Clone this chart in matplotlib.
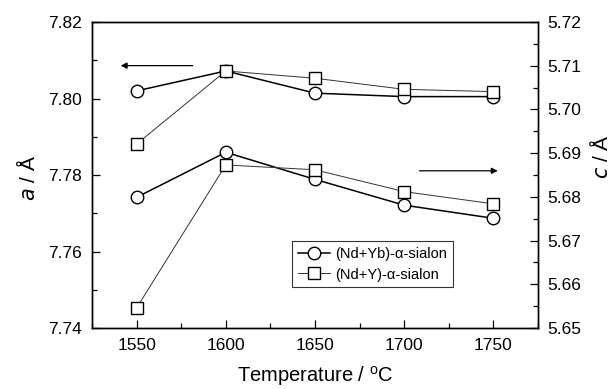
import matplotlib
matplotlib.use("Agg")
import matplotlib.pyplot as plt
from matplotlib.ticker import MultipleLocator

plt.rcParams['font.family'] = ['Liberation Sans', 'DejaVu Sans']

# ---------------------- DATA ----------------------
temperature = [1550, 1600, 1650, 1700, 1750]

# lattice parameter a (left axis)
a_ndyb = [7.8020, 7.8072, 7.8014, 7.8005, 7.8005]
a_ndy = [7.7881, 7.8072, 7.8053, 7.8024, 7.8018]

# lattice parameter c (right axis)
c_ndyb = [5.6799, 5.6902, 5.6840, 5.6781, 5.6751]
c_ndy = [5.6546, 5.6873, 5.6862, 5.6812, 5.6784]

labels = ["(Nd+Yb)-\u03b1-sialon", "(Nd+Y)-\u03b1-sialon"]

# ---------------------- FIGURE ----------------------
fig = plt.figure(figsize=(6.15, 3.89), dpi=100)
ax = fig.add_axes([0.1496, 0.1568, 0.7252, 0.7866])
ax2 = ax.twinx()

circ = dict(marker='o', ms=9, mfc='white', mec='black', mew=1.0,
            color='black', lw=1.1)
sq = dict(marker='s', ms=8.5, mfc='white', mec='black', mew=1.0,
          color='#333333', lw=0.7)

h1, = ax.plot(temperature, a_ndyb, zorder=3, **circ)
ax.plot(temperature, a_ndy, zorder=4, **sq)
ax2.plot(temperature, c_ndyb, zorder=3, **circ)
h2, = ax2.plot(temperature, c_ndy, zorder=4, **sq)

ax.set_xlim(1525, 1775)
ax.set_ylim(7.74, 7.82)
ax2.set_ylim(5.65, 5.72)

ax.xaxis.set_major_locator(MultipleLocator(50))
ax.xaxis.set_minor_locator(MultipleLocator(25))
ax.yaxis.set_major_locator(MultipleLocator(0.02))
ax.yaxis.set_minor_locator(MultipleLocator(0.01))
ax2.yaxis.set_major_locator(MultipleLocator(0.01))
ax2.yaxis.set_minor_locator(MultipleLocator(0.005))
ax.yaxis.set_major_formatter(plt.FormatStrFormatter('%.2f'))
ax2.yaxis.set_major_formatter(plt.FormatStrFormatter('%.2f'))

ax.tick_params(axis='both', which='major', direction='in', length=6,
               width=0.9, labelsize=12.5, pad=7, top=False, right=False)
ax.tick_params(axis='both', which='minor', direction='in', length=3.5,
               width=0.9, top=False, right=False)
ax2.tick_params(axis='y', which='major', direction='in', length=6,
                width=0.9, labelsize=12.5, pad=7)
ax2.tick_params(axis='y', which='minor', direction='in', length=3.5, width=0.9)

for a_ in (ax, ax2):
    for s in a_.spines.values():
        s.set_linewidth(1.0)

ax.set_xlabel("Temperature / $^\\mathregular{o}$C", fontsize=14.5)
ax.xaxis.set_label_coords(0.5, -0.118)
ax.set_ylabel("$\\mathit{a}$ / \u00c5", fontsize=15)
ax.yaxis.set_label_coords(-0.118, 0.49)
ax2.set_ylabel("$\\mathit{c}$ / \u00c5", fontsize=15)
ax2.yaxis.set_label_coords(1.115, 0.56)

# arrows pointing to the relevant axis
ax.annotate("", xy=(1539.5, 7.8086), xytext=(1583, 7.8086),
            arrowprops=dict(arrowstyle='-|>', color='black', lw=0.9,
                            mutation_scale=9))
ax.annotate("", xy=(1754, 7.7811), xytext=(1707, 7.7811),
            arrowprops=dict(arrowstyle='-|>', color='black', lw=0.9,
                            mutation_scale=9))

leg = ax2.legend([h1, h2], labels, loc='upper left',
                 bbox_to_anchor=(0.448, 0.284), borderaxespad=0,
                 fontsize=10.5, frameon=True, fancybox=False,
                 edgecolor='black', handlelength=2.2, handletextpad=0.4,
                 borderpad=0.4, labelspacing=0.45)
leg.get_frame().set_linewidth(0.8)

fig.savefig("out.png", dpi=100)
